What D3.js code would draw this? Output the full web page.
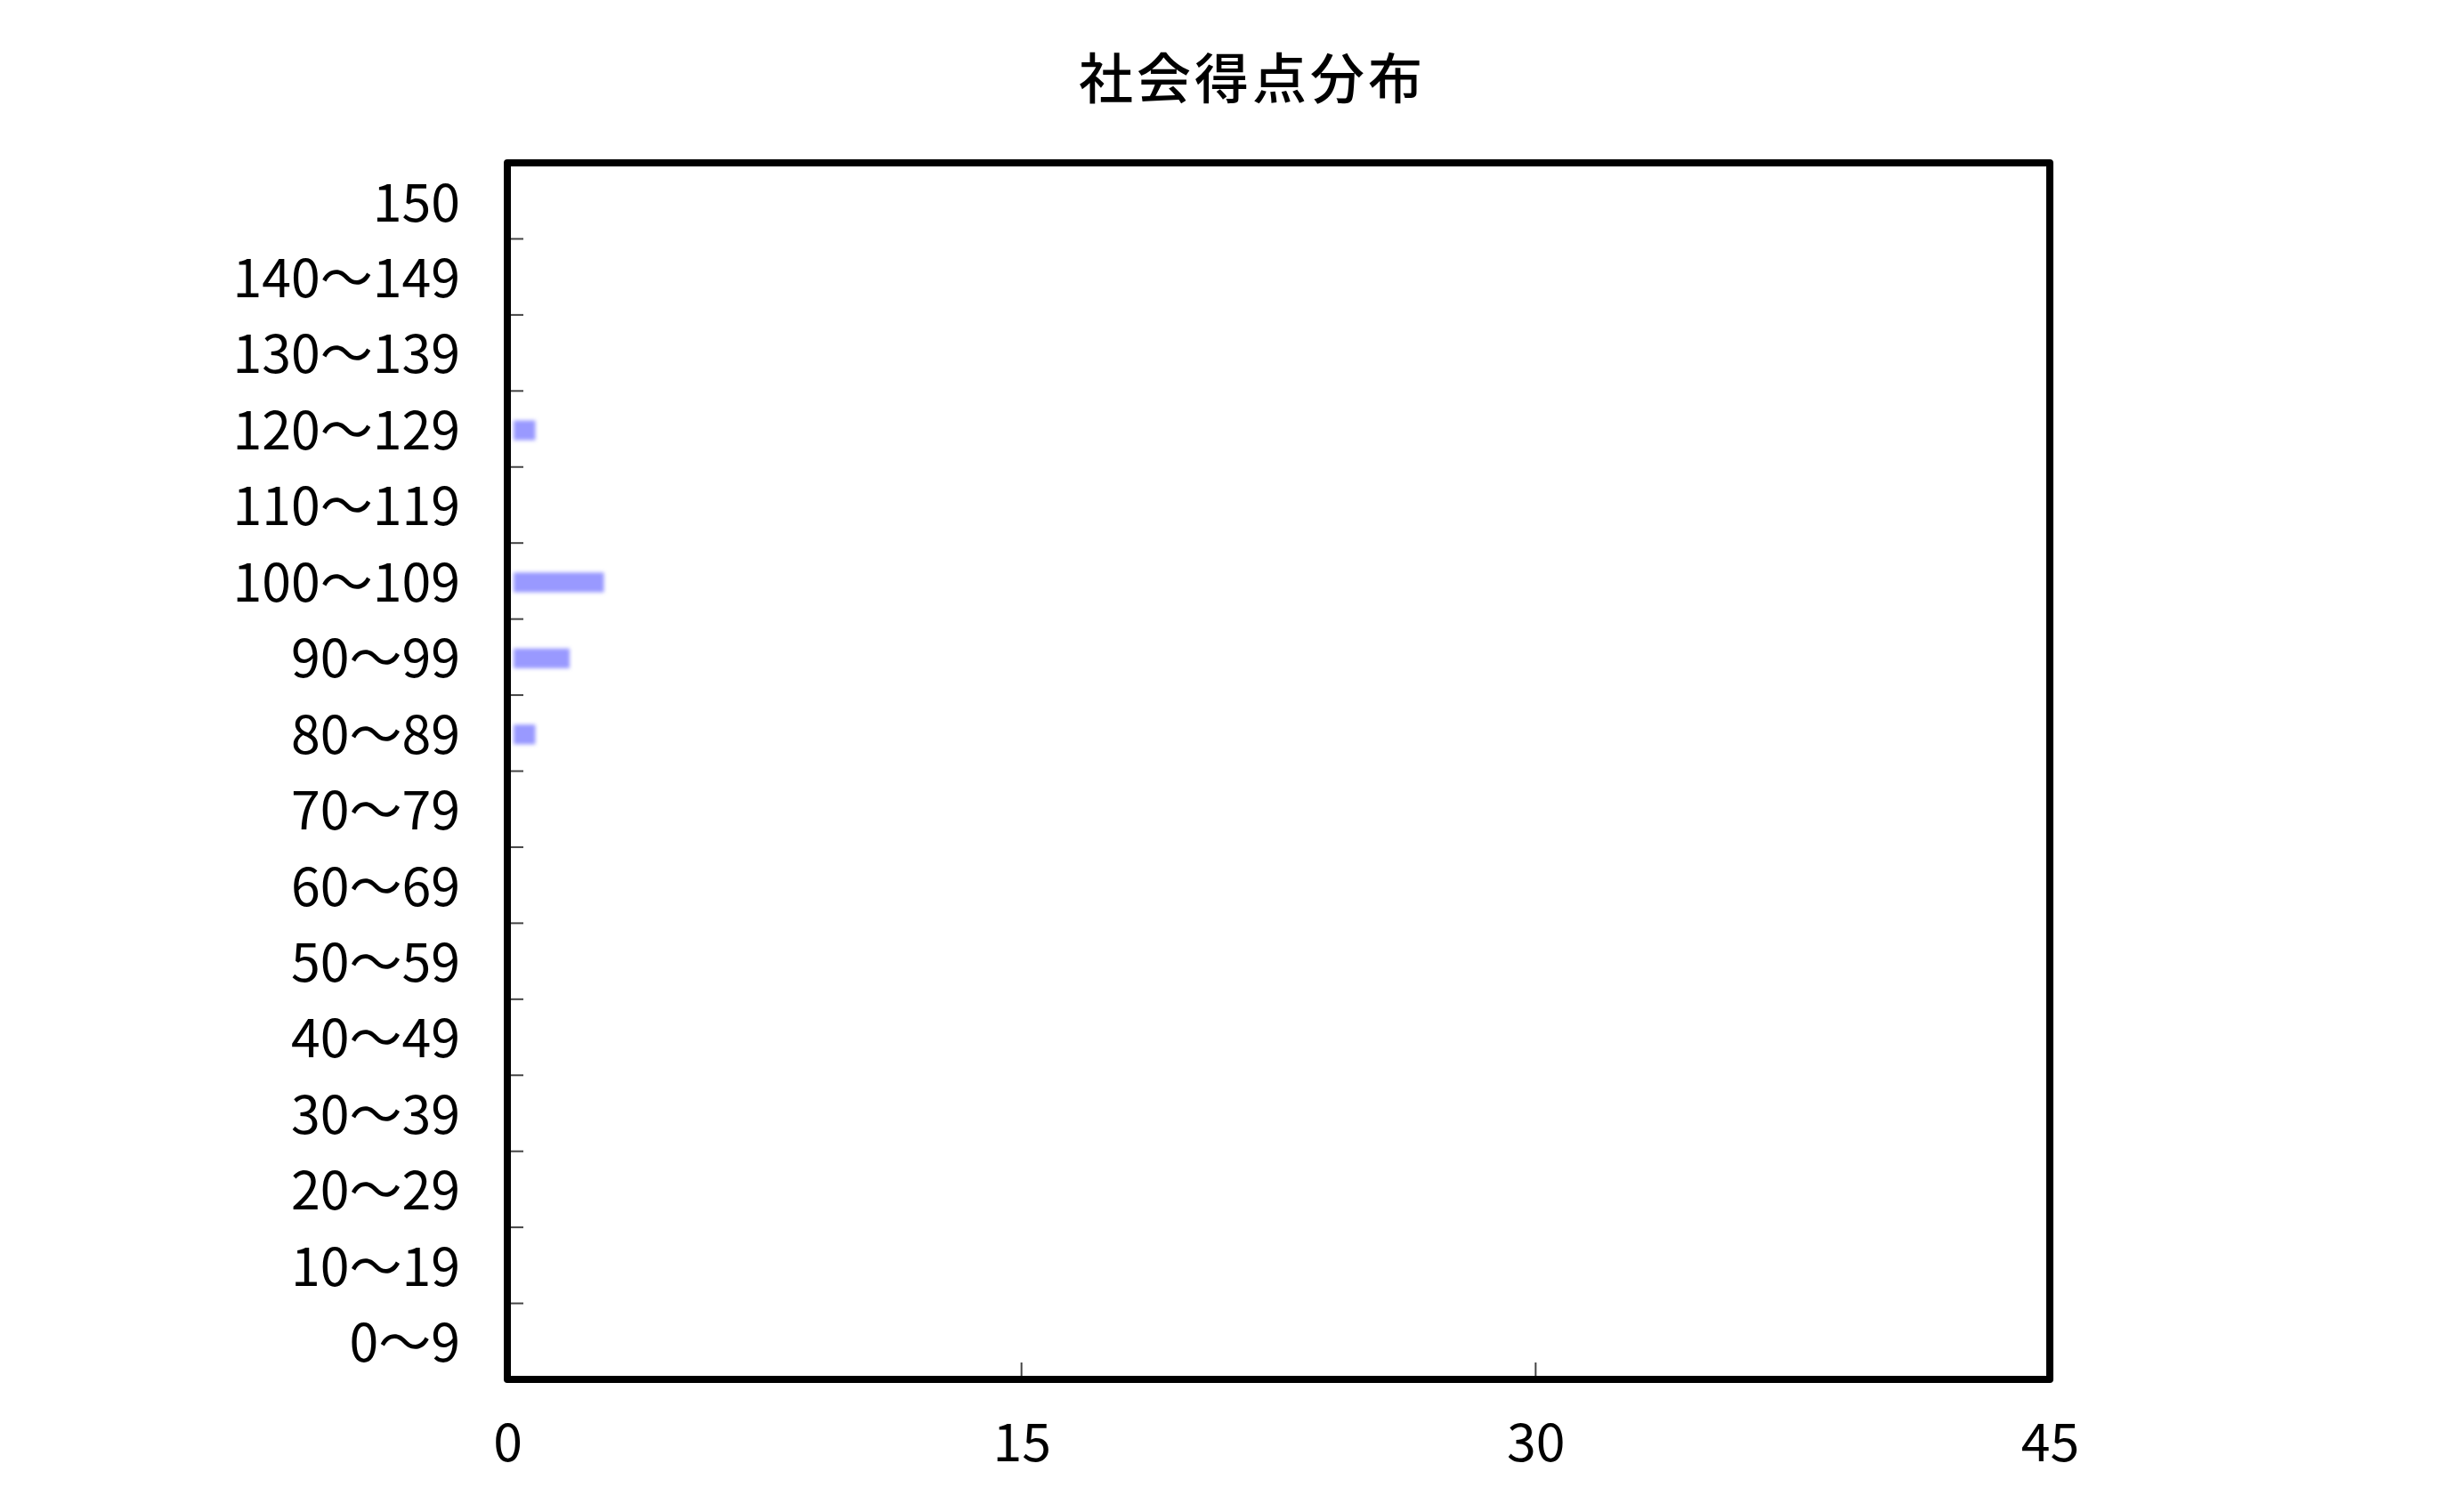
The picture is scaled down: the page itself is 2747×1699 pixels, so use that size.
<!DOCTYPE html>
<html>
<head>
<meta charset="utf-8">
<script src="https://cdn.jsdelivr.net/npm/d3@7"></script>
<style>
  html, body { margin: 0; padding: 0; background: #fff; }
  text { font-family: "Noto Sans CJK JP", "Noto Sans", sans-serif; fill: #000; }
</style>
</head>
<body>
<script>
// score bands, top to bottom as in the chart
var categories = ['150', '140～149', '130～139', '120～129', '110～119', '100～109',
  '90～99', '80～89', '70～79', '60～69', '50～59', '40～49', '30～39', '20～29', '10～19', '0～9']
// number of students per band
var counts = [0, 0, 0, 1, 0, 3, 2, 1, 0, 0, 0, 0, 0, 0, 0, 0]
var xTicks = [0, 15, 30, 45]
var title = '社会得点分布'

var W = 2747
var H = 1699
// plot frame (note: "top" is reserved on window, so prefixed names)
var plotL = 570, plotR = 2303, plotT = 183, plotB = 1550

var svg = d3.select('body').append('svg').attr('width', W).attr('height', H)

var defs = svg.append('defs')
defs.append('filter').attr('id', 'soft')
  .attr('x', '-20%').attr('y', '-50%').attr('width', '140%').attr('height', '200%')
  .append('feGaussianBlur').attr('stdDeviation', 2)

var x = d3.scaleLinear().domain([0, 45]).range([plotL, plotR])
var y = d3.scaleBand().domain(categories).range([plotT, plotB]).padding(0)

// title
svg.append('text')
  .attr('x', 1407).attr('y', 84)
  .attr('text-anchor', 'middle')
  .attr('dominant-baseline', 'central')
  .style('font-size', '61px')
  .style('font-weight', 500)
  .style('letter-spacing', '4px')
  .text(title)

// bars (thin, soft edged)
var barH = y.bandwidth() * 0.26
var inset = 7
svg.append('g').selectAll('rect')
  .data(categories.map(function (c, i) { return { cat: c, v: counts[i] } }).filter(function (d) { return d.v > 0 }))
  .enter().append('rect')
  .attr('x', x(0) + inset)
  .attr('y', function (d) { return y(d.cat) + y.bandwidth() / 2 - barH / 2 + 1.5 })
  .attr('width', function (d) { return Math.max(0, x(d.v) - x(0) - 2 * inset) })
  .attr('height', barH)
  .attr('fill', '#9999ff')
  .attr('filter', 'url(#soft)')

// inner ticks between bands
svg.append('g').selectAll('line')
  .data(categories.slice(1))
  .enter().append('line')
  .attr('x1', plotL + 4).attr('x2', plotL + 18)
  .attr('y1', function (d) { return y(d) }).attr('y2', function (d) { return y(d) })
  .attr('stroke', '#444').attr('stroke-width', 2)

svg.append('g').selectAll('line')
  .data(xTicks.slice(1, -1))
  .enter().append('line')
  .attr('x1', function (d) { return x(d) }).attr('x2', function (d) { return x(d) })
  .attr('y1', plotB - 4).attr('y2', plotB - 19)
  .attr('stroke', '#444').attr('stroke-width', 2)

// y labels
var yAxis = svg.append('g')
  .attr('transform', 'translate(' + plotL + ',4)')
  .call(d3.axisLeft(y).tickSize(0).tickPadding(53))
yAxis.select('.domain').remove()
yAxis.selectAll('text').style('font-size', '59px').attr('font-family', null)

// x labels
var xAxis = svg.append('g')
  .attr('transform', 'translate(0,' + plotB + ')')
  .call(d3.axisBottom(x).tickValues(xTicks).tickSize(0).tickPadding(0).tickFormat(d3.format('d')))
xAxis.select('.domain').remove()
xAxis.selectAll('text')
  .attr('y', 66).attr('dy', null)
  .attr('dominant-baseline', 'central')
  .style('font-size', '59px').attr('font-family', null)

// frame
svg.append('rect')
  .attr('x', plotL).attr('y', plotT)
  .attr('width', plotR - plotL).attr('height', plotB - plotT)
  .attr('fill', 'none')
  .attr('stroke', '#000').attr('stroke-width', 8)
  .attr('stroke-linejoin', 'round')
</script>
</body>
</html>
